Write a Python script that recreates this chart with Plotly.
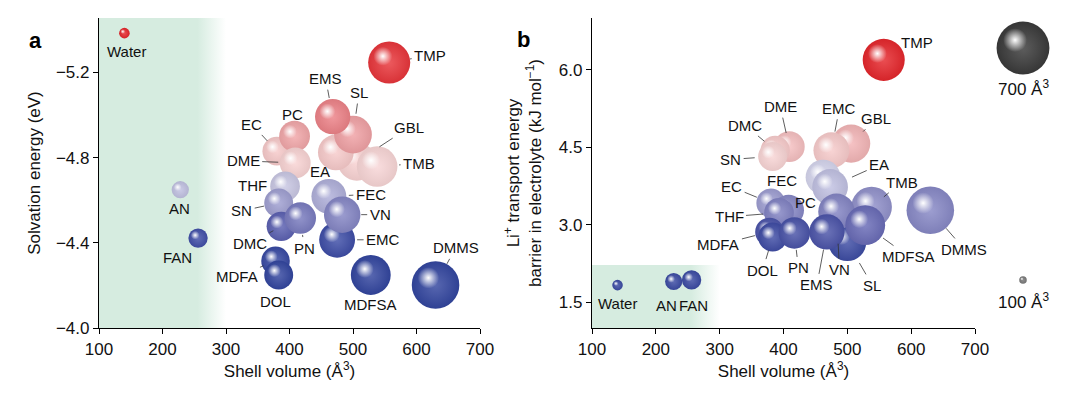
import numpy as np
import plotly.graph_objects as go

# ---------------- data ----------------
solvents = ["Water", "AN", "FAN", "TMP", "EMS", "SL", "GBL", "TMB", "EA", "PC", "EC", "DME",
            "THF", "SN", "DMC", "PN", "FEC", "VN", "EMC", "MDFA", "DOL", "MDFSA", "DMMS"]
shell_volume = [140, 228, 256, 557, 468, 500, 506, 538, 473, 408, 380, 409,
                393, 383, 387, 417, 462, 483, 475, 378, 383, 528, 630]
solvation_energy = [-5.384, -4.649, -4.422, -5.246, -4.992, -4.908, -4.781, -4.758, -4.824, -4.900, -4.830, -4.775,
                    -4.665, -4.587, -4.477, -4.516, -4.618, -4.532, -4.414, -4.315, -4.249, -4.249, -4.202]
transport_barrier = [1.83, 1.90, 1.93, 6.19, 2.86, 2.66, 4.57, 3.34, 3.73, 3.28, 3.42, 4.51,
                     3.23, 4.32, 4.44, 2.84, 3.92, 3.25, 4.44, 2.86, 2.76, 2.99, 3.28]
size_key_volumes = [700, 100]
x_ticks = [100, 200, 300, 400, 500, 600, 700]
ya_ticks = [-5.2, -4.8, -4.4, -4.0]
yb_ticks = [1.5, 3.0, 4.5, 6.0]

# ---------------- styles / layout constants ----------------
W, H = 1080, 394
FONT = "Liberation Sans, Arial, Helvetica, sans-serif"
PX_PER_VOL = 0.0755          # bubble diameter (px) per Å^3
XA_PX = (99, 480)
XB_PX = (592, 975)
Y_PX = (18, 328)             # top, bottom
XRANGE = [100, 700]
YA_RANGE = [-4.0, -5.455]
YB_RANGE = [1.0, 7.0]
BAND_X = (100, 300, 255)     # start, end, fade start
BAND_B_TOP = 2.22
GREEN = (214, 236, 224)

order_a = ["Water", "AN", "FAN", "TMP", "GBL", "EA", "TMB", "SL", "EMS", "EC", "PC", "DME", "THF", "SN",
           "DMC", "PN", "FEC", "EMC", "VN", "MDFA", "DOL", "MDFSA", "DMMS"]
order_b = ["Water", "AN", "FAN", "TMP", "DME", "DMC", "SN", "GBL", "EMC", "FEC", "EA", "TMB", "DMMS",
           "EC", "PC", "THF", "MDFA", "DOL", "PN", "SL", "VN", "MDFSA", "EMS"]

# label offsets (dx, dy in px, dy positive = down), standoff (None = no leader line)
labels_a = {
    "Water": (2, 18, None), "AN": (-1, 19, None), "FAN": (-21, 19, None),
    "TMP": (41, -7, 21), "EMS": (-7, -38, 19), "SL": (6, -42, 21), "PC": (-2, -22, None),
    "EC": (-25, -27, 14), "DME": (-52, -2, 17), "EA": (-16, 19, 11), "GBL": (52, -34, 27),
    "TMB": (42, -3, 22), "THF": (-33, -1, None), "SN": (-37, 8, 15), "DMC": (-31, 17, 9),
    "PN": (4, 30, 17), "FEC": (42, -2, 20), "VN": (38, 0, 19), "EMC": (46, 0, 20),
    "MDFSA": (0, 30, None), "DMMS": (20, -37, 24), "MDFA": (-39, 16, 13), "DOL": (-3, 27, None),
}
labels_b = {
    "Water": (0, 18, None), "AN": (-7, 24, None), "FAN": (2, 26, None),
    "TMP": (33, -17, 20), "DME": (-9, -40, 14), "DMC": (-30, -25, 14), "SN": (-42, 3, 18),
    "EMC": (8, -42, 19), "GBL": (25, -25, 17), "EA": (49, -22, 24), "EC": (-39, -16, 15),
    "FEC": (-41, 3, None), "TMB": (30, -25, 16), "PC": (17, -8, None), "THF": (-50, 4, 16),
    "MDFA": (-51, 13, 15), "DOL": (-10, 33, 14), "PN": (4, 35, 17), "EMS": (-10, 53, 18),
    "VN": (3, 58, 32), "SL": (25, 43, 24), "MDFSA": (43, 31, 22), "DMMS": (34, 39, 24),
}

# colour ramps (value -> colour) for each panel
ramp_a = [(-5.38, "#e5262b"), (-5.25, "#e8353a"), (-5.0, "#ec7f85"), (-4.91, "#f0a0a3"),
          (-4.85, "#f6c6c6"), (-4.76, "#f9d6d6"), (-4.66, "#c6c6e4"), (-4.60, "#a5a5d4"),
          (-4.53, "#8485c4"), (-4.48, "#5d62b2"), (-4.42, "#3f4ea7"), (-4.25, "#33469f")]
ramp_b = [(1.8, "#3a4aa2"), (2.75, "#3e4ca4"), (2.9, "#5057aa"), (3.0, "#6c6eb8"),
          (3.25, "#8384c3"), (3.45, "#a2a2d3"), (3.75, "#c3c3e3"), (3.95, "#d8d8ee"),
          (4.3, "#f8d6d6"), (4.45, "#f7caca"), (4.6, "#f2b0b2"), (6.2, "#e5262b")]


def hex2rgb(h):
    h = h.lstrip("#")
    return np.array([int(h[i:i + 2], 16) for i in (0, 2, 4)], float)


def ramp_color(v, ramp):
    vals = [r[0] for r in ramp]
    cols = [hex2rgb(r[1]) for r in ramp]
    if vals[0] > vals[-1]:
        vals = vals[::-1]
        cols = cols[::-1]
    rgb = [np.interp(v, vals, [c[i] for c in cols]) for i in range(3)]
    return np.array(rgb)


def mix(rgb, other, t):
    return rgb * (1 - t) + np.array(other, float) * t


def css(rgb, a=1.0):
    r, g, b = [int(round(max(0, min(255, c)))) for c in rgb]
    return f"rgba({r},{g},{b},{a})"


def frac(px_lo, px_hi, total):
    return [px_lo / total, px_hi / total]


def sphere_trace(xs, ys, rgbs, diam, xaxis, yaxis, ppx, ppy, ysign):
    X, Y, S, C, G = [], [], [], [], []
    for x, y, c, d in zip(xs, ys, rgbs, diam):
        X.append(x); Y.append(y); S.append(d)
        C.append(css(mix(c, (0, 0, 0), 0.07)))
        G.append(css(mix(c, (255, 255, 255), 0.18)))
        # specular highlight, offset up-left
        off = 0.15 * d
        X.append(x - off / ppx); Y.append(y + ysign * off / ppy); S.append(0.45 * d)
        C.append("rgba(255,255,255,0)")
        G.append("rgba(255,255,255,1)")
    return go.Scatter(x=X, y=Y, mode="markers", xaxis=xaxis, yaxis=yaxis,
                      marker=dict(size=S, sizemode="diameter", color=C, opacity=1,
                                  line=dict(width=0), gradient=dict(type="radial", color=G)),
                      hoverinfo="skip", showlegend=False, cliponaxis=False)


def band_trace(y0, y1, xaxis, yaxis):
    fade = (BAND_X[2] - BAND_X[0]) / (BAND_X[1] - BAND_X[0])
    return go.Scatter(x=[BAND_X[0], BAND_X[1], BAND_X[1], BAND_X[0], BAND_X[0]],
                      y=[y0, y0, y1, y1, y0], mode="lines", fill="toself",
                      line=dict(width=0, color="rgba(0,0,0,0)"),
                      fillgradient=dict(type="horizontal",
                                        colorscale=[[0, css(GREEN)], [fade, css(GREEN)],
                                                    [1, css(GREEN, 0)]]),
                      xaxis=xaxis, yaxis=yaxis, hoverinfo="skip", showlegend=False)


idx = {n: i for i, n in enumerate(solvents)}
fig = go.Figure()

# panel a
fig.add_trace(band_trace(YA_RANGE[0], YA_RANGE[1], "x", "y"))
ppx_a = (XA_PX[1] - XA_PX[0]) / (XRANGE[1] - XRANGE[0])
ppy_a = (Y_PX[1] - Y_PX[0]) / abs(YA_RANGE[1] - YA_RANGE[0])
ia = [idx[n] for n in order_a]
fig.add_trace(sphere_trace([shell_volume[i] for i in ia], [solvation_energy[i] for i in ia],
                           [ramp_color(solvation_energy[i], ramp_a) for i in ia],
                           [shell_volume[i] * PX_PER_VOL for i in ia], "x", "y", ppx_a, ppy_a, -1))

# panel b
fig.add_trace(band_trace(YB_RANGE[0], BAND_B_TOP, "x2", "y2"))
ppx_b = (XB_PX[1] - XB_PX[0]) / (XRANGE[1] - XRANGE[0])
ppy_b = (Y_PX[1] - Y_PX[0]) / abs(YB_RANGE[1] - YB_RANGE[0])
ib = [idx[n] for n in order_b]
fig.add_trace(sphere_trace([shell_volume[i] for i in ib], [transport_barrier[i] for i in ib],
                           [ramp_color(transport_barrier[i], ramp_b) for i in ib],
                           [shell_volume[i] * PX_PER_VOL for i in ib], "x2", "y2", ppx_b, ppy_b, 1))

# size key (pixel-space overlay axes)
KEY_X = 1023
KEY_Y = [48, 280]
KEY_COL = [(58, 58, 58), (120, 120, 120)]
fig.add_trace(sphere_trace([KEY_X] * 2, KEY_Y, [np.array(c, float) for c in KEY_COL],
                           [v * PX_PER_VOL for v in size_key_volumes], "x3", "y3", 1, 1, -1))

annotations = []
lab_font = dict(family=FONT, size=15, color="#111")


def add_labels(ys, labels, xref, yref):
    for n, (dx, dy, so) in labels.items():
        i = idx[n]
        if so is None:
            annotations.append(dict(x=shell_volume[i], y=ys[i], xref=xref, yref=yref, text=n,
                                    showarrow=False, xshift=dx, yshift=-dy, font=lab_font))
        else:
            annotations.append(dict(x=shell_volume[i], y=ys[i], xref=xref, yref=yref, text=n,
                                    showarrow=True, ax=dx, ay=dy, axref="pixel", ayref="pixel",
                                    arrowhead=0, arrowwidth=0.8, arrowcolor="#333",
                                    standoff=so, startstandoff=1, font=lab_font))


add_labels(solvation_energy, labels_a, "x", "y")
add_labels(transport_barrier, labels_b, "x2", "y2")

for v, yk, dy in zip(size_key_volumes, KEY_Y, [40, 21]):
    annotations.append(dict(x=KEY_X, y=yk + dy, xref="x3", yref="y3", showarrow=False,
                            text=f"{v} Å<sup>3</sup>", font=dict(family=FONT, size=17, color="#111")))

annotations.append(dict(x=27 / W, y=1 - 26 / H, xref="paper", yref="paper", showarrow=False,
                        text="<b>a</b>", font=dict(family=FONT, size=22, color="#000")))
annotations.append(dict(x=523 / W, y=1 - 25 / H, xref="paper", yref="paper", showarrow=False,
                        text="<b>b</b>", font=dict(family=FONT, size=22, color="#000")))

axis_common = dict(showline=True, linecolor="black", linewidth=1.3, ticks="outside", ticklen=5,
                   tickwidth=1.3, tickcolor="black", showgrid=False, zeroline=False,
                   automargin=False,
                   tickfont=dict(family=FONT, size=17, color="#111"))
ydom = [(H - Y_PX[1]) / H, (H - Y_PX[0]) / H]

fig.update_layout(
    width=W, height=H, margin=dict(l=0, r=0, t=0, b=0, autoexpand=False),
    paper_bgcolor="white", plot_bgcolor="rgba(0,0,0,0)", showlegend=False,
    xaxis=dict(domain=frac(*XA_PX, W), range=XRANGE, tickvals=x_ticks, anchor="y",
               title=dict(text="Shell volume (Å<sup>3</sup>)", standoff=6,
                          font=dict(family=FONT, size=17, color="#111")), **axis_common),
    yaxis=dict(domain=ydom, range=YA_RANGE, tickvals=ya_ticks, anchor="x",
               ticktext=[f"−{abs(v):.1f}" for v in ya_ticks],
               title=dict(text="Solvation energy (eV)", standoff=10,
                          font=dict(family=FONT, size=17, color="#111")), **axis_common),
    xaxis2=dict(domain=frac(*XB_PX, W), range=XRANGE, tickvals=x_ticks, anchor="y2",
                title=dict(text="Shell volume (Å<sup>3</sup>)", standoff=6,
                           font=dict(family=FONT, size=17, color="#111")), **axis_common),
    yaxis2=dict(domain=ydom, range=YB_RANGE, tickvals=yb_ticks, anchor="x2",
                ticktext=[f"{v:.1f}" for v in yb_ticks],
                title=dict(text="Li<sup>+</sup> transport energy<br>barrier in electrolyte (kJ mol<sup>−1</sup>)",
                           standoff=12, font=dict(family=FONT, size=17, color="#111")), **axis_common),
    xaxis3=dict(domain=[0, 1], range=[0, W], visible=False, anchor="y3"),
    yaxis3=dict(domain=[0, 1], range=[H, 0], visible=False, anchor="x3"),
    annotations=annotations,
)

fig.write_html("out.html", config={"displayModeBar": False},
               post_script="document.body.style.margin='0';")
